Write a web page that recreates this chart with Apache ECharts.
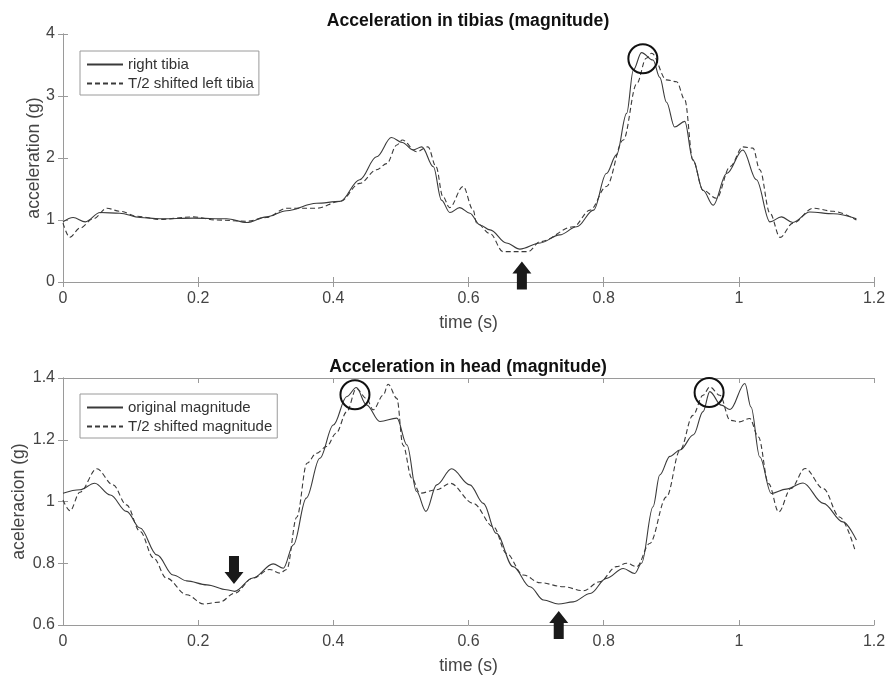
<!DOCTYPE html>
<html>
<head>
<meta charset="utf-8">
<script src="https://cdn.jsdelivr.net/npm/echarts@6/dist/echarts.min.js"></script>
<style>html,body{margin:0;padding:0;background:#fff}#c{width:888px;height:675px}</style>
</head>
<body>
<div id="c"></div>
<script>
// ---- Data (time in s, acceleration in g) ----
const tibiaRightT = [0,0.015,0.033,0.055,0.084,0.114,0.143,0.193,0.242,0.272,0.301,0.331,0.375,0.41,0.439,0.464,0.486,0.502,0.518,0.531,0.548,0.560,0.5725,0.587,0.602,0.617,0.632,0.656,0.676,0.706,0.735,0.76,0.785,0.804,0.819,0.834,0.844,0.856,0.873,0.883,0.893,0.905,0.920,0.932,0.947,0.962,0.982,1.006,1.026,1.046,1.063,1.080,1.105,1.14,1.174];
const tibiaRightG = [0.97,1.04,0.97,1.12,1.11,1.04,1.02,1.03,1.02,0.96,1.05,1.15,1.27,1.30,1.65,2.02,2.33,2.25,2.13,2.18,1.86,1.32,1.12,1.2,1.11,0.92,0.84,0.63,0.53,0.63,0.76,0.89,1.16,1.75,2.05,2.72,3.42,3.70,3.58,3.3,2.9,2.50,2.59,1.97,1.48,1.24,1.75,2.13,1.65,0.97,1.05,0.96,1.13,1.10,1.02];
const tibiaLeftT = [0,0.010,0.025,0.045,0.065,0.084,0.11,0.143,0.193,0.227,0.272,0.301,0.331,0.375,0.41,0.439,0.464,0.479,0.494,0.502,0.523,0.540,0.552,0.562,0.572,0.592,0.607,0.612,0.632,0.651,0.688,0.706,0.755,0.780,0.804,0.829,0.849,0.863,0.871,0.893,0.908,0.920,0.932,0.947,0.967,0.987,1.006,1.021,1.031,1.046,1.061,1.080,1.11,1.14,1.174];
const tibiaLeftG = [0.95,0.72,0.87,1.02,1.19,1.14,1.06,1.01,1.05,1.0,0.98,1.04,1.19,1.19,1.30,1.59,1.81,1.91,2.21,2.29,2.10,2.18,1.86,1.38,1.2,1.54,1.16,0.95,0.78,0.49,0.49,0.65,0.89,1.16,1.54,2.29,3.2,3.61,3.69,3.26,3.23,2.94,1.97,1.48,1.35,1.86,2.18,2.16,1.81,1.11,0.72,0.95,1.19,1.14,1.0];

const headOrigT = [0,0.025,0.047,0.07,0.094,0.114,0.139,0.163,0.183,0.213,0.242,0.254,0.281,0.311,0.326,0.341,0.360,0.380,0.400,0.420,0.434,0.449,0.469,0.494,0.509,0.523,0.537,0.553,0.575,0.602,0.622,0.641,0.666,0.691,0.711,0.733,0.755,0.780,0.804,0.829,0.846,0.856,0.873,0.883,0.898,0.913,0.933,0.947,0.957,0.974,0.987,1.009,1.018,1.031,1.048,1.070,1.095,1.125,1.154,1.174];
const headOrigG = [1.027,1.038,1.059,1.021,0.968,0.914,0.827,0.762,0.743,0.730,0.714,0.709,0.752,0.798,0.784,0.860,1.011,1.140,1.248,1.340,1.369,1.313,1.259,1.270,1.183,1.033,0.968,1.054,1.106,1.054,0.994,0.897,0.789,0.724,0.681,0.668,0.675,0.702,0.751,0.783,0.767,0.80,0.983,1.086,1.146,1.167,1.216,1.291,1.356,1.312,1.298,1.382,1.306,1.144,1.026,1.04,1.06,0.994,0.934,0.875];
const headShiftT = [0,0.0104,0.025,0.05,0.074,0.094,0.114,0.134,0.153,0.183,0.208,0.232,0.254,0.281,0.306,0.321,0.331,0.346,0.361,0.375,0.390,0.404,0.420,0.434,0.449,0.459,0.474,0.481,0.494,0.503,0.516,0.528,0.553,0.573,0.607,0.637,0.656,0.681,0.706,0.740,0.770,0.794,0.819,0.834,0.849,0.868,0.893,0.913,0.932,0.947,0.957,0.972,0.987,1.001,1.016,1.029,1.044,1.059,1.077,1.098,1.125,1.149,1.172];
const headShiftG = [1.005,0.970,1.03,1.106,1.054,0.989,0.903,0.817,0.752,0.698,0.668,0.674,0.703,0.752,0.78,0.768,0.78,0.95,1.124,1.156,1.178,1.221,1.291,1.366,1.334,1.297,1.345,1.38,1.334,1.183,1.076,1.027,1.038,1.059,0.994,0.918,0.832,0.762,0.737,0.724,0.711,0.740,0.789,0.80,0.789,0.864,1.015,1.166,1.279,1.344,1.371,1.344,1.263,1.258,1.269,1.209,1.058,0.966,1.042,1.107,1.042,0.95,0.842];

// annotation anchors (data coordinates)
const tibiaCircles = [[0.858, 3.6]];
const tibiaUpArrows = [[0.679, 0.105]];
const headCircles = [[0.432, 1.346], [0.956, 1.353]];
const headDownArrows = [[0.253, 0.778]];
const headUpArrows = [[0.7335, 0.6]];

const titles = ['Acceleration in tibias (magnitude)', 'Acceleration in head (magnitude)'];
const legendNames = ['right tibia', 'T/2 shifted left tibia', 'original magnitude', 'T/2 shifted magnitude'];
const xName = 'time (s)';
const yNames = ['acceleration (g)', 'aceleracion (g)'];

const zip = (t, g) => t.map((x, i) => [x, g[i]]);

const FONT = 'Liberation Sans, Arial, Helvetica, sans-serif';
const TXT = '#444';
const BOX = '#9a9a9a';
const LINE = '#3a3a3a';
const TICK_FS = 16;
const LABEL_FS = 17.6;
const UP = 'path://M9.5,0 L19,12 L14.5,12 L14.5,28 L4.5,28 L4.5,12 L0,12 Z';
const DOWN = 'path://M4.5,0 L14.5,0 L14.5,16 L19,16 L9.5,28 L0,16 L4.5,16 Z';

function circleMarks(list) {
  return list.map(c => ({coord: c, symbol: 'circle', symbolSize: 29,
    itemStyle: {color: 'rgba(0,0,0,0)', borderColor: '#111', borderWidth: 2}}));
}
function arrowMarks(list, sym) {
  return list.map(c => ({coord: c, symbol: sym, symbolSize: [19, 28],
    itemStyle: {color: '#1a1a1a', borderWidth: 0}}));
}

const grids = [
  {left: 63, right: 14, top: 34, height: 248},
  {left: 63, right: 14, top: 378, height: 247}
];

function xAxes(gi) {
  const base = {gridIndex: gi, type: 'value', min: 0, max: 1.2, interval: 0.2,
    axisLine: {show: true, lineStyle: {color: BOX, width: 1}},
    axisTick: {show: true, inside: true, length: 5, lineStyle: {color: BOX}},
    splitLine: {show: false}};
  return [
    Object.assign({}, base, {position: 'bottom',
      axisLabel: {color: TXT, fontSize: TICK_FS, fontFamily: FONT, margin: 9},
      name: xName, nameLocation: 'middle', nameGap: 32, nameMoveOverlap: false,
      nameTextStyle: {color: TXT, fontSize: LABEL_FS, fontFamily: FONT}}),
    Object.assign({}, base, {position: 'top', axisLabel: {show: false}})
  ];
}
function yAxes(gi, min, max, interval, nameGap) {
  const base = {gridIndex: gi, type: 'value', min: min, max: max, interval: interval,
    axisLine: {show: true, lineStyle: {color: BOX, width: 1}},
    axisTick: {show: true, inside: true, length: 5, lineStyle: {color: BOX}},
    splitLine: {show: false}};
  return [
    Object.assign({}, base, {position: 'left',
      axisLabel: {color: TXT, fontSize: TICK_FS, fontFamily: FONT, margin: 8},
      name: yNames[gi], nameLocation: 'middle', nameGap: nameGap, nameMoveOverlap: false,
      nameTextStyle: {color: TXT, fontSize: LABEL_FS, fontFamily: FONT}}),
    Object.assign({}, base, {position: 'right', axisLabel: {show: false}})
  ];
}

function line(name, data, xi, yi, dashed, marks) {
  return {
    name: name, type: 'line', xAxisIndex: xi, yAxisIndex: yi,
    data: data, showSymbol: false, symbol: 'none', smooth: 0.35, smoothMonotone: 'x',
    lineStyle: {color: LINE, width: 1.1, type: dashed ? [5, 3] : 'solid'},
    itemStyle: {color: LINE},
    emphasis: {disabled: true}, silent: true, z: 3,
    markPoint: marks ? {silent: true, label: {show: false}, data: marks, z: 5} : undefined
  };
}

const legendBase = {orient: 'vertical', left: 80, itemWidth: 36, itemHeight: 14, itemGap: 4,
  padding: [6, 5, 4, 6], borderColor: BOX, borderWidth: 1, backgroundColor: '#fff',
  itemStyle: {opacity: 0, borderWidth: 0},
  textStyle: {color: '#333', fontSize: 15, fontFamily: FONT}, selectedMode: false};

const option = {
  animation: false,
  backgroundColor: '#fff',
  title: [
    {text: titles[0], left: 468, top: 12, padding: 0, textAlign: 'center',
      textStyle: {fontSize: LABEL_FS, fontWeight: 'bold', color: '#111', fontFamily: FONT}},
    {text: titles[1], left: 468, top: 358, padding: 0, textAlign: 'center',
      textStyle: {fontSize: LABEL_FS, fontWeight: 'bold', color: '#111', fontFamily: FONT}}
  ],
  legend: [
    Object.assign({}, legendBase, {top: 51, data: [legendNames[0], legendNames[1]]}),
    Object.assign({}, legendBase, {top: 394, data: [legendNames[2], legendNames[3]]})
  ],
  grid: grids.map(g => Object.assign({show: false, containLabel: false, outerBoundsMode: 'none'}, g)),
  xAxis: [...xAxes(0), ...xAxes(1)],
  yAxis: [...yAxes(0, 0, 4, 1, 20), ...yAxes(1, 0.6, 1.4, 0.2, 35)],
  series: [
    line(legendNames[0], zip(tibiaRightT, tibiaRightG), 0, 0, false,
      circleMarks(tibiaCircles).concat(arrowMarks(tibiaUpArrows, UP))),
    line(legendNames[1], zip(tibiaLeftT, tibiaLeftG), 0, 0, true),
    line(legendNames[2], zip(headOrigT, headOrigG), 2, 2, false,
      circleMarks(headCircles).concat(arrowMarks(headDownArrows, DOWN), arrowMarks(headUpArrows, UP))),
    line(legendNames[3], zip(headShiftT, headShiftG), 2, 2, true)
  ]
};

const chart = echarts.init(document.getElementById('c'), null, {renderer: 'canvas'});
chart.setOption(option);
</script>
</body>
</html>
